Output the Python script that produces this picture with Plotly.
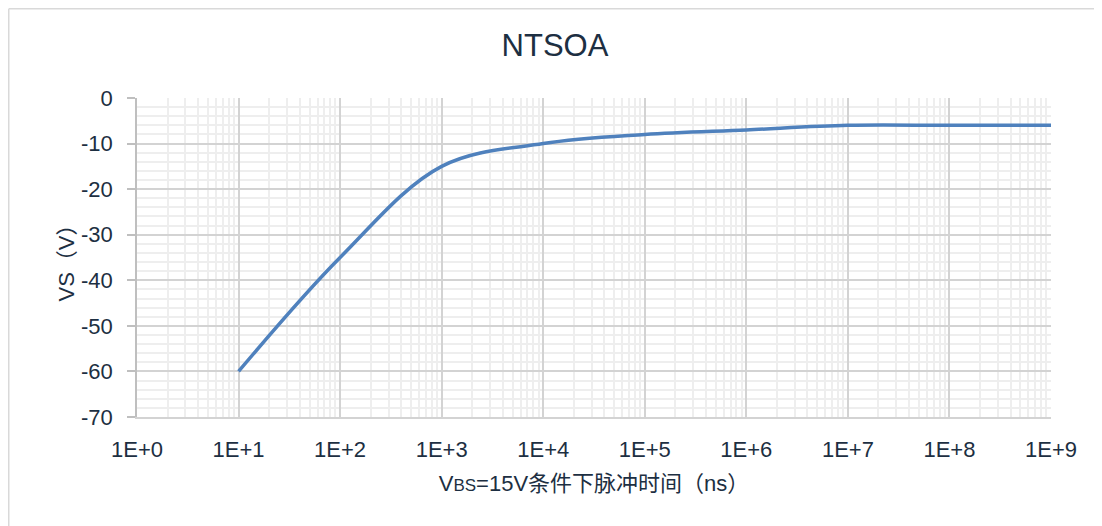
import plotly.graph_objects as go

# ---- data ----
pulse_time_ns = [1e1, 1e2, 1e3, 1e4, 1e5, 1e6, 1e7, 1e8, 1e9]
vs_volts = [-60, -35, -15, -10, -8, -7, -6, -6, -6]
x_tickvals = [1e0, 1e1, 1e2, 1e3, 1e4, 1e5, 1e6, 1e7, 1e8, 1e9]
x_ticktext = ["1E+0", "1E+1", "1E+2", "1E+3", "1E+4", "1E+5", "1E+6", "1E+7", "1E+8", "1E+9"]
y_tickvals = [0, -10, -20, -30, -40, -50, -60, -70]
y_ticktext = ["0", "-10", "-20", "-30", "-40", "-50", "-60", "-70"]

OFF = 8  # page body margin of the browser
W, H = 1102 - OFF, 526 - OFF
ML, MR, MT, MB = 137 - OFF, 51, 98 - OFF, 109
PW, PH = W - ML - MR, H - MT - MB

TEXT = "#1D2F42"
FONT = "Arial, 'Liberation Sans', 'Noto Sans CJK SC', sans-serif"


def px(xp):
    return (xp - OFF - ML) / PW


def py(yp):
    return (H - MB - (yp - OFF)) / PH


fig = go.Figure()
fig.add_trace(go.Scatter(
    x=pulse_time_ns, y=vs_volts, mode="lines",
    line=dict(color="#4F81BD", width=3.5, shape="spline", smoothing=1.0),
    showlegend=False, hoverinfo="x+y",
))

# decorative frame of the source screenshot (top and left edges)
shapes = [
    dict(type="line", xref="paper", yref="paper", x0=px(8.75), y0=py(8.75), x1=px(1102), y1=py(8.75),
         line=dict(color="#D9D9D9", width=1.5), layer="below"),
    dict(type="line", xref="paper", yref="paper", x0=px(8.75), y0=py(8.75), x1=px(8.75), y1=py(526),
         line=dict(color="#D9D9D9", width=1.5), layer="below"),
]

fig.update_layout(
    width=W, height=H,
    margin=dict(l=ML, r=MR, t=MT, b=MB, autoexpand=False),
    paper_bgcolor="white", plot_bgcolor="white",
    font=dict(family=FONT, size=22, color=TEXT),
    title=dict(text="NTSOA", x=0.5, xref="container", xanchor="center",
               y=(H - (45 - OFF)) / H, yanchor="middle",
               font=dict(size=31, color=TEXT, family=FONT)),
    shapes=shapes,
)

fig.update_xaxes(
    type="log", range=[0, 9],
    tickvals=x_tickvals, ticktext=x_ticktext,
    showgrid=True, gridcolor="#D3D3D3", gridwidth=1.5,
    minor=dict(showgrid=True, dtick="D1", gridcolor="#EEEEEE", gridwidth=1.5, ticks=""),
    showline=True, linecolor="#D3D3D3", linewidth=1.5,
    ticks="", zeroline=False, ticklabelstandoff=12,
    tickfont=dict(size=22, color=TEXT),
    title=dict(text="V<span style='font-size:17px'>BS</span>=15V条件下脉冲时间（ns）",
               font=dict(size=22, color=TEXT), standoff=14),
    automargin=False,
)
fig.update_yaxes(
    range=[-70, 0],
    tickvals=y_tickvals, ticktext=y_ticktext,
    showgrid=True, gridcolor="#D3D3D3", gridwidth=1.5,
    minor=dict(showgrid=True, dtick=2, gridcolor="#EEEEEE", gridwidth=1.5, ticks=""),
    showline=True, linecolor="#BFBFBF", linewidth=1.5,
    ticks="outside", ticklen=8, tickcolor="#BFBFBF", tickwidth=1.5,
    zeroline=False, ticklabelstandoff=10,
    tickfont=dict(size=22, color=TEXT),
    title=dict(text="VS（V）", font=dict(size=22, color=TEXT), standoff=0),
    automargin=False,
)

fig.write_html("out.html")
